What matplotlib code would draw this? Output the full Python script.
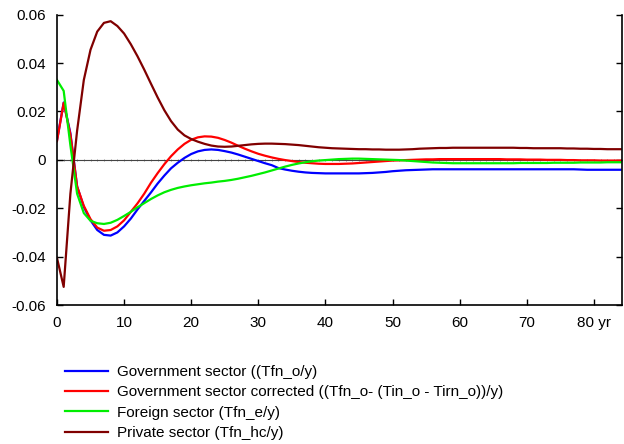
import numpy as np
import matplotlib.pyplot as plt
from matplotlib.lines import Line2D

plt.rcParams["font.family"] = ["Liberation Sans", "DejaVu Sans"]

years = np.arange(0, 85)

gov = [
    0.0080, 0.0237, 0.0110, -0.0110, -0.0195, -0.0250, -0.0290, -0.0310, -0.0313, -0.0300,
    -0.0275, -0.0243, -0.0205, -0.0170, -0.0135, -0.0098, -0.0065, -0.0035, -0.0012, 0.0008,
    0.0024, 0.0035, 0.0041, 0.0043, 0.0041, 0.0036, 0.0030, 0.0022, 0.0013, 0.0004,
    -0.0005, -0.0014, -0.0022, -0.0034, -0.0040, -0.0045, -0.0049, -0.0052, -0.0054, -0.0055,
    -0.0056, -0.0056, -0.0056, -0.0056, -0.0056, -0.0056, -0.0055, -0.0054, -0.0052, -0.0050,
    -0.0047, -0.0045, -0.0043, -0.0042, -0.0041, -0.0040, -0.0039, -0.0039, -0.0039, -0.0039,
    -0.0039, -0.0039, -0.0039, -0.0039, -0.0039, -0.0039, -0.0039, -0.0039, -0.0039, -0.0039,
    -0.0039, -0.0039, -0.0039, -0.0039, -0.0039, -0.0039, -0.0039, -0.0039, -0.0040, -0.0041,
    -0.0041, -0.0041, -0.0041, -0.0041, -0.0041,
]

gov_corr = [
    0.0077, 0.0235, 0.0105, -0.0110, -0.0190, -0.0245, -0.0280, -0.0293, -0.0290, -0.0275,
    -0.0250, -0.0215, -0.0180, -0.0140, -0.0095, -0.0055, -0.0018, 0.0015, 0.0043, 0.0066,
    0.0083, 0.0093, 0.0097, 0.0096, 0.0091, 0.0082, 0.0071, 0.0058, 0.0046, 0.0035,
    0.0025, 0.0017, 0.0010, 0.0004, -0.0001, -0.0005, -0.0009, -0.0012, -0.0014, -0.0016,
    -0.0017, -0.0017, -0.0017, -0.0016, -0.0015, -0.0013, -0.0011, -0.0009, -0.0007, -0.0005,
    -0.0003, -0.0002, -0.0001, 0.0000, 0.0001, 0.0002, 0.0002, 0.0003, 0.0003, 0.0003,
    0.0003, 0.0003, 0.0003, 0.0003, 0.0003, 0.0003, 0.0003, 0.0002, 0.0002, 0.0002,
    0.0001, 0.0001, 0.0001, 0.0000, 0.0000, 0.0000, -0.0001, -0.0001, -0.0002, -0.0002,
    -0.0002, -0.0003, -0.0003, -0.0003, -0.0003,
]

foreign = [
    0.0330, 0.0285, 0.0060, -0.0140, -0.0220, -0.0252, -0.0262, -0.0265, -0.0260, -0.0248,
    -0.0232, -0.0215, -0.0196, -0.0179, -0.0162, -0.0147, -0.0134, -0.0124, -0.0116, -0.0110,
    -0.0105, -0.0101, -0.0097, -0.0094, -0.0090, -0.0087, -0.0083, -0.0078, -0.0072, -0.0066,
    -0.0059, -0.0052, -0.0044, -0.0036, -0.0028, -0.0021, -0.0015, -0.0010, -0.0006, -0.0003,
    -0.0001, 0.0001, 0.0003, 0.0004, 0.0005, 0.0005, 0.0004, 0.0003, 0.0002, 0.0001,
    0.0000, -0.0001, -0.0003, -0.0005, -0.0007, -0.0009, -0.0011, -0.0012, -0.0013, -0.0014,
    -0.0014, -0.0014, -0.0014, -0.0014, -0.0014, -0.0014, -0.0014, -0.0014, -0.0014, -0.0013,
    -0.0013, -0.0013, -0.0013, -0.0013, -0.0012, -0.0012, -0.0012, -0.0012, -0.0011, -0.0011,
    -0.0011, -0.0011, -0.0010, -0.0010, -0.0010,
]

private = [
    -0.0405, -0.0525, -0.0140, 0.0120, 0.0330, 0.0455, 0.0530, 0.0566, 0.0573, 0.0553,
    0.0522, 0.0478, 0.0428, 0.0373, 0.0315, 0.0258, 0.0205, 0.0160, 0.0125, 0.0101,
    0.0086, 0.0075, 0.0066, 0.0059, 0.0055, 0.0054, 0.0055, 0.0058, 0.0061, 0.0064,
    0.0066, 0.0067, 0.0067, 0.0066, 0.0065, 0.0063, 0.0061, 0.0058, 0.0055, 0.0052,
    0.0050, 0.0048, 0.0047, 0.0046, 0.0045, 0.0044, 0.0044, 0.0043, 0.0043, 0.0042,
    0.0042, 0.0042, 0.0043, 0.0044, 0.0046, 0.0047, 0.0048, 0.0049, 0.0049, 0.0050,
    0.0050, 0.0050, 0.0050, 0.0050, 0.0050, 0.0050, 0.0050, 0.0050, 0.0050, 0.0049,
    0.0049, 0.0048, 0.0048, 0.0048, 0.0048, 0.0048, 0.0047, 0.0047, 0.0046, 0.0046,
    0.0045, 0.0045, 0.0044, 0.0044, 0.0044,
]

labels = [
    "Government sector ((Tfn_o/y)",
    "Government sector corrected ((Tfn_o- (Tin_o - Tirn_o))/y)",
    "Foreign sector (Tfn_e/y)",
    "Private sector (Tfn_hc/y)",
]
colors = ["#0000ff", "#ff0000", "#00ee00", "#800000"]

x_ticks = [0, 10, 20, 30, 40, 50, 60, 70, 80]
x_tick_labels = ["0", "10", "20", "30", "40", "50", "60", "70", "80 yr"]
y_ticks = [-0.06, -0.04, -0.02, 0, 0.02, 0.04, 0.06]
y_tick_labels = ["-0.06", "-0.04", "-0.02", "0", "0.02", "0.04", "0.06"]

fig = plt.figure(figsize=(6.24, 4.44), dpi=100)
ax = fig.add_axes([0.0913, 0.313, 0.9055, 0.654])

# zero reference line with small year ticks
ax.plot(years, np.zeros(len(years)), color="#444444", linewidth=0.8,
        marker="|", markersize=2, markeredgewidth=0.4, zorder=1)

for series, color in zip([gov, gov_corr, foreign, private], colors):
    ax.plot(years, series, color=color, linewidth=1.6, zorder=2)

ax.set_xlim(0, 84.2)
ax.set_ylim(-0.06, 0.06)
ax.set_xticks(x_ticks)
ax.set_xticklabels(x_tick_labels)
ax.set_yticks(y_ticks)
ax.set_yticklabels(y_tick_labels)

ax.spines["top"].set_visible(False)
for side in ["left", "bottom", "right"]:
    ax.spines[side].set_linewidth(1.2)
ax.tick_params(axis="both", direction="in", length=4, width=1.0,
               labelsize=11, colors="black")
ax.tick_params(axis="y", right=True, pad=8)
ax.tick_params(axis="x", pad=8)

handles = [Line2D([0], [0], color=c, linewidth=1.6) for c in colors]
fig.legend(handles, labels, loc="upper left", bbox_to_anchor=(0.104, 0.178),
           frameon=False, fontsize=11, handlelength=2.8, handletextpad=0.6,
           labelspacing=0.42, borderpad=0, borderaxespad=0)

fig.savefig("out.png", dpi=100)
